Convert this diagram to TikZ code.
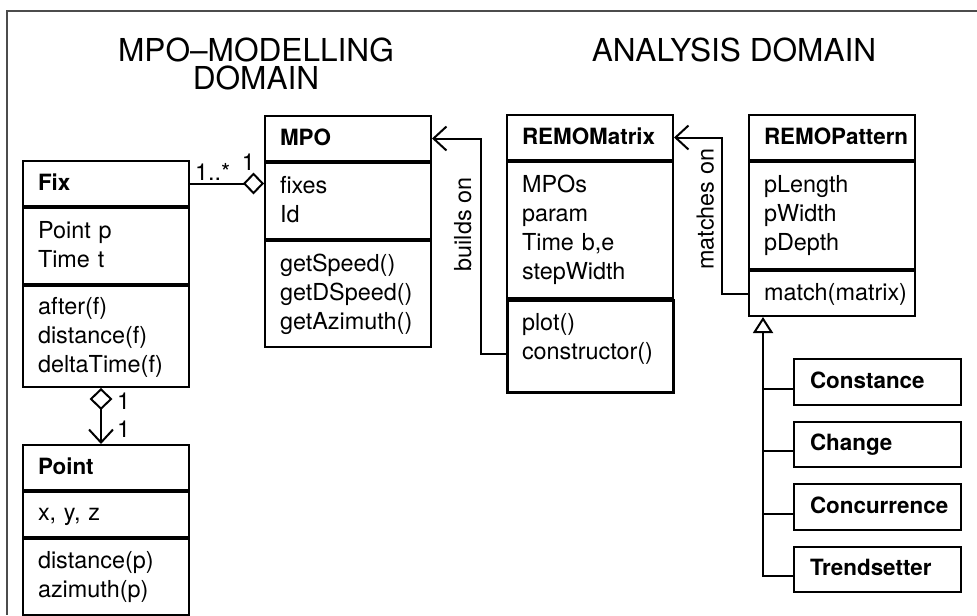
\documentclass[tikz,border=0pt]{standalone}
\usepackage{fontspec}
\setmainfont{TeX Gyre Heros}
\usetikzlibrary{arrows.meta,positioning}

\newcommand\clstrut{\rule[-2.5pt]{0pt}{11.5pt}}

\begin{document}
\begin{tikzpicture}[x=0.5pt,y=-0.5pt,line width=1pt,
  cls/.style={draw, anchor=north west, inner xsep=7.5pt, inner ysep=1pt, text width=68pt, align=left,
    font=\fontsize{11.7}{14.5}\selectfont, execute at begin node=\clstrut, execute at end node=\clstrut},
  head/.style={cls, minimum height=22.5pt, font=\fontsize{11.2}{14.5}\selectfont\bfseries},
  part/.style={cls, below=0pt of #1},
  sub/.style={head, text width=67.5pt, inner xsep=8pt, minimum height=22.75pt},
  title/.style={anchor=north, inner sep=0pt, align=center, font=\fontsize{15.8}{14}\selectfont},
  lbl/.style={inner sep=0pt, font=\fontsize{11.7}{14}\selectfont},
  barb/.style={-{Straight Barb[length=6.5pt,width=12pt]}}]
\useasboundingbox (0,0) rectangle (977,615);
\draw[line width=0.8pt, black!70] (977,11) -- (7,11) -- (7,615);

\node[title] (tMod) at (256,37) {MPO–MODELLING\\DOMAIN};
\node[title] (tAna) at (734,37) {ANALYSIS DOMAIN};

\node[head] (fixH) at (22,160) {Fix};
\node[part=fixH, minimum height=38pt] (fixA) {Point p\\Time t};
\node[part=fixA, minimum height=50.5pt] (fixO) {after(f)\\distance(f)\\deltaTime(f)};

\node[head] (ptH) at (22,444) {Point};
\node[part=ptH, minimum height=22.5pt] (ptA) {x, y, z};
\node[part=ptA, minimum height=38pt] (ptO) {distance(p)\\azimuth(p)};

\node[head] (mpoH) at (264,115) {MPO};
\node[part=mpoH, minimum height=38pt] (mpoA) {fixes\\Id};
\node[part=mpoA, minimum height=53pt] (mpoO) {getSpeed()\\getDSpeed()\\getAzimuth()};

\node[head] (rmH) at (506,114) {REMOMatrix};
\node[part=rmH, minimum height=68pt] (rmA) {MPOs\\param\\Time b,e\\stepWidth};
\node[part=rmA, minimum height=46pt, line width=1.5pt, execute at end node={\rule[-10.5pt]{0pt}{1pt}}] (rmO) {plot()\\constructor()};

\node[head] (patH) at (748,114) {REMOPattern};
\node[part=patH, minimum height=53.5pt] (patA) {pLength\\pWidth\\pDepth};
\node[part=patA, minimum height=22.5pt] (patO) {match(matrix)};

\node[sub] (con) at (793,358) {Constance};
\node[sub, below=7.5pt of con] (chg) {Change};
\node[sub, below=7.5pt of chg] (ccr) {Concurrence};
\node[sub, below=7.5pt of ccr] (trs) {Trendsetter};

\draw[-{Diamond[open,length=10.5pt,width=11pt]}] (fixH.east) -- (fixH.east -| mpoH.west)
  node[lbl, pos=0, anchor=south west, xshift=2pt, yshift=1.25pt] {1..*}
  node[lbl, pos=1, anchor=south east, xshift=-4pt, yshift=6.25pt] {1};
\draw[{Diamond[open,length=11pt,width=11.5pt]}-{Straight Barb[length=6.5pt,width=12pt]}] ([xshift=-2.5pt]fixO.south) -- ([xshift=-2.5pt]ptH.north)
  node[lbl, pos=0, anchor=north west, xshift=7.5pt, yshift=-2pt] {1}
  node[lbl, pos=1, anchor=south west, xshift=7.5pt, yshift=3pt] {1};

\draw[barb] ([yshift=-3.5pt]rmO.west) -- ++(-25,0) coordinate (bo)
  -- node[lbl, pos=0.6, rotate=90, anchor=south, inner sep=4pt] {builds on} (bo |- mpoH.east) -- (mpoH.east);
\draw[barb] (patO.west) -- ++(-26,0) coordinate (mo)
  -- node[lbl, pos=0.54, rotate=90, anchor=south, inner sep=3.5pt] {matches on} (mo |- rmH.east) -- (rmH.east);

\draw[-{Triangle[open,length=8pt,width=10pt]}] ([yshift=-3.5pt]trs.west) -- ++(-30,0) coordinate (ib) -- (ib |- patO.south);
\foreach \n in {con,chg,ccr}
  \draw ([yshift=-3.5pt]\n.west) -- ++(-30,0);
\end{tikzpicture}
\end{document}
